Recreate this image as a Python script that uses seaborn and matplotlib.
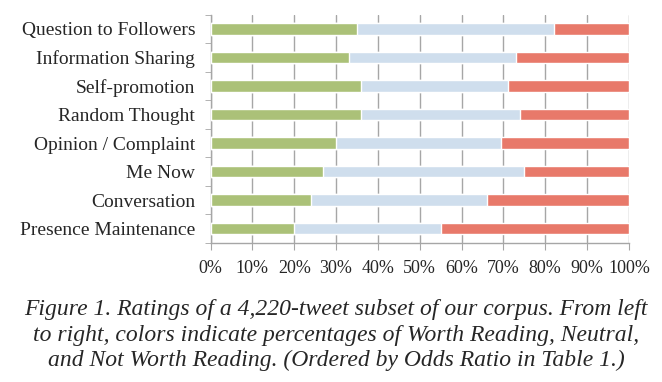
import numpy as np
import pandas as pd
import matplotlib
matplotlib.use('Agg')
import matplotlib.pyplot as plt
import seaborn as sns
from matplotlib.ticker import FuncFormatter, FixedLocator

# Tweet categories, top to bottom
categories = [
    'Question to Followers',
    'Information Sharing',
    'Self-promotion',
    'Random Thought',
    'Opinion / Complaint',
    'Me Now',
    'Conversation',
    'Presence Maintenance',
]

# Percentages
worth_reading = [35, 33, 36, 36, 30, 27, 24, 20]
neutral = [47, 40, 35, 38, 39.5, 48, 42, 35]
not_worth_reading = [18, 27, 29, 26, 30.5, 25, 34, 45]

x_ticks = [0, 10, 20, 30, 40, 50, 60, 70, 80, 90, 100]

COLORS = {
    'worth': '#abc178',
    'neutral': '#cfdeed',
    'not_worth': '#e8796a',
    'grid': '#a6a6a6',
}

sns.set_style('white')
plt.rcParams['font.family'] = ['Liberation Serif', 'DejaVu Serif']

df = pd.DataFrame({
    'category': categories,
    'worth': worth_reading,
    'neutral': neutral,
    'not_worth': not_worth_reading,
})
# cumulative ends for stacking
df['end_neutral'] = df['worth'] + df['neutral']
df['end_all'] = df['end_neutral'] + df['not_worth']

fig = plt.figure(figsize=(6.62, 3.82), dpi=100)
ax = fig.add_axes([0.318, 0.364, 0.632, 0.598])

# Draw longest segment first, shorter ones on top
sns.barplot(data=df, x='end_all', y='category', color=COLORS['not_worth'],
            width=0.4, orient='h', ax=ax, saturation=1, zorder=3)
sns.barplot(data=df, x='end_neutral', y='category', color=COLORS['neutral'],
            width=0.4, orient='h', ax=ax, saturation=1, zorder=3)
sns.barplot(data=df, x='worth', y='category', color=COLORS['worth'],
            width=0.4, orient='h', ax=ax, saturation=1, zorder=3)

ax.set_xlim(0, 100)
ax.set_ylim(len(categories) - 0.5, -0.5)
ax.set_xlabel('')
ax.set_ylabel('')

# x axis: percent ticks and vertical gridlines
ax.xaxis.set_major_locator(FixedLocator(x_ticks))
ax.xaxis.set_major_formatter(FuncFormatter(lambda v, p: f'{v:.0f}%'))
ax.grid(axis='x', color=COLORS['grid'], linewidth=1, zorder=0)
ax.set_axisbelow(True)

# y axis: tick marks sit between categories
ax.set_yticks(np.arange(len(categories)))
ax.set_yticklabels(categories)
ax.set_yticks(np.arange(-0.5, len(categories), 1), minor=True)
ax.tick_params(axis='y', which='major', length=0, pad=11, labelsize=14)
ax.tick_params(axis='y', which='minor', length=4, color=COLORS['grid'],
               direction='out', left=True)
ax.tick_params(axis='x', which='major', length=5, color=COLORS['grid'],
               direction='out', bottom=True, pad=7, labelsize=13)

for side in ['top', 'right']:
    ax.spines[side].set_visible(False)
for side in ['left', 'bottom']:
    ax.spines[side].set_color(COLORS['grid'])
    ax.spines[side].set_linewidth(1)

caption = ('Figure 1. Ratings of a 4,220-tweet subset of our corpus. From left\n'
           'to right, colors indicate percentages of Worth Reading, Neutral,\n'
           'and Not Worth Reading. (Ordered by Odds Ratio in Table 1.)')
fig.text(0.508, 0.122, caption, ha='center', va='center', fontsize=17,
         style='italic', linespacing=1.27)

fig.savefig('out.png', dpi=100)
